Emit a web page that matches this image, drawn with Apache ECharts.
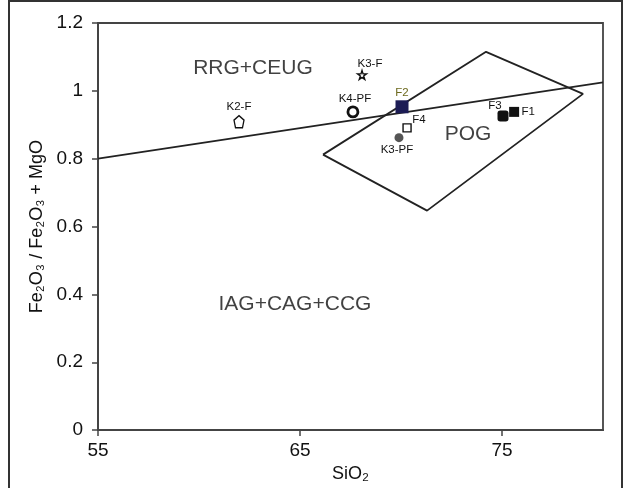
<!DOCTYPE html>
<html lang="en">
<head>
    <meta charset="UTF-8">
    <title>SiO2 vs Fe2O3 / Fe2O3 + MgO</title>
    <script src="https://cdn.jsdelivr.net/npm/echarts@6/dist/echarts.min.js"></script>
    <style>
        html, body { margin: 0; padding: 0; background: #fff; }
        #chart { width: 625px; height: 488px; }
    </style>
</head>
<body>
<div id="chart"></div>
<script>
    // samples
    var sampleNames = ['K2-F', 'K3-F', 'K4-PF', 'F2', 'F4', 'K3-PF', 'F3', 'F1'];
    var sampleSiO2 = [61.98, 68.07, 67.62, 70.05, 70.3, 69.9, 75.05, 75.6];
    var sampleRatio = [0.909, 1.047, 0.938, 0.953, 0.891, 0.862, 0.926, 0.938];

    // boundary line
    var dividerSiO2 = [55, 80];
    var dividerRatio = [0.8, 1.025];

    // POG field
    var pogSiO2 = [66.14, 74.21, 79.01, 71.29, 66.14];
    var pogRatio = [0.812, 1.115, 0.991, 0.647, 0.812];

    // field names
    var fieldNames = ['RRG+CEUG', 'POG', 'IAG+CAG+CCG'];
    var fieldSiO2 = [62.67, 73.32, 64.75];
    var fieldRatio = [1.068, 0.871, 0.371];

    var xTicks = [55, 65, 75];

    function zip(a, b) {
        return a.map(function (v, i) { return [v, b[i]]; });
    }

    var star = 'path://M50,0 L61,35 L98,35 L68,57 L79,91 L50,70 L21,91 L32,57 L2,35 L39,35 Z';
    var house = 'path://M5,0 L10,4 L8.5,11 L1.5,11 L0,4 Z';

    // marker look for each sample
    var styles = {
        'K2-F':  {symbol: house, size: [10, 12], fill: '#fff', stroke: '#111', bw: 1.4, off: [0, -15], color: '#111'},
        'K3-F':  {symbol: star, size: 9, fill: '#fff', stroke: '#111', bw: 1.4, off: [8, -11], color: '#111'},
        'K4-PF': {symbol: 'circle', size: 10, fill: '#fff', stroke: '#111', bw: 2.8, off: [2, -13], color: '#111'},
        'F2':    {symbol: 'rect', size: 13, fill: '#1c1c55', stroke: '#1c1c55', bw: 0, off: [0, -14], color: '#6d6a1e'},
        'F4':    {symbol: 'rect', size: 8, fill: '#fff', stroke: '#111', bw: 1.4, off: [12, -8], color: '#111'},
        'K3-PF': {symbol: 'circle', size: 9, fill: '#555', stroke: '#555', bw: 0, off: [-2, 12], color: '#111'},
        'F3':    {symbol: 'roundRect', size: 11, fill: '#111', stroke: '#111', bw: 0, off: [-8, -10], color: '#111'},
        'F1':    {symbol: 'rect', size: 10, fill: '#111', stroke: '#111', bw: 0, off: [14, 0], color: '#111'}
    };

    var sampleSeries = sampleNames.map(function (name, i) {
        var s = styles[name];
        return {
            name: name,
            type: 'scatter',
            z: 5,
            symbol: s.symbol,
            symbolSize: s.size,
            itemStyle: {color: s.fill, borderColor: s.stroke, borderWidth: s.bw, opacity: 1},
            label: {
                show: true,
                position: 'inside',
                offset: s.off,
                formatter: name,
                fontFamily: 'Liberation Sans, Arial',
                fontSize: 11.5,
                color: s.color
            },
            emphasis: {disabled: true},
            data: [[sampleSiO2[i], sampleRatio[i]]]
        };
    });

    var chart = echarts.init(document.getElementById('chart'));

    var option = {
        animation: false,
        backgroundColor: '#fff',
        textStyle: {fontFamily: 'Liberation Sans, Arial'},
        grid: {
            left: 98, right: 22, top: 23, bottom: 57,
            show: true, borderColor: '#444', borderWidth: 1.8, backgroundColor: 'transparent'
        },
        graphic: [{
            type: 'rect',
            shape: {x: 9, y: 1, width: 613, height: 500},
            style: {fill: null, stroke: '#333', lineWidth: 2},
            silent: true
        }],
        xAxis: {
            type: 'value',
            min: 55,
            max: 80,
            name: 'SiO\u2082',
            nameLocation: 'middle',
            nameGap: 28,
            nameTextStyle: {fontSize: 18, color: '#111'},
            axisLine: {show: true, lineStyle: {color: '#444', width: 2}},
            axisTick: {show: true, inside: false, length: 6, customValues: xTicks, lineStyle: {color: '#444', width: 1.5}},
            axisLabel: {customValues: xTicks, fontSize: 19, color: '#111', margin: 11},
            splitLine: {show: false}
        },
        yAxis: {
            type: 'value',
            min: 0,
            max: 1.2,
            interval: 0.2,
            name: 'Fe\u2082O\u2083 / Fe\u2082O\u2083 + MgO',
            nameLocation: 'middle',
            nameGap: 52,
            nameTextStyle: {fontSize: 18, color: '#111'},
            axisLine: {show: true, lineStyle: {color: '#444', width: 2}},
            axisTick: {show: true, inside: false, length: 6, lineStyle: {color: '#444', width: 1.5}},
            axisLabel: {fontSize: 19, color: '#111', margin: 15},
            splitLine: {show: false}
        },
        series: [
            {
                type: 'line',
                z: 2,
                symbol: 'none',
                silent: true,
                lineStyle: {color: '#222', width: 1.8},
                data: zip(dividerSiO2, dividerRatio)
            },
            {
                type: 'line',
                z: 2,
                symbol: 'none',
                silent: true,
                lineStyle: {color: '#222', width: 1.8},
                data: zip(pogSiO2, pogRatio)
            },
            {
                type: 'scatter',
                z: 3,
                symbol: 'circle',
                symbolSize: 0,
                silent: true,
                label: {
                    show: true,
                    position: 'inside',
                    formatter: function (p) { return fieldNames[p.dataIndex]; },
                    fontSize: 21,
                    color: '#111'
                },
                data: zip(fieldSiO2, fieldRatio)
            }
        ].concat(sampleSeries)
    };

    chart.setOption(option);
</script>
</body>
</html>
